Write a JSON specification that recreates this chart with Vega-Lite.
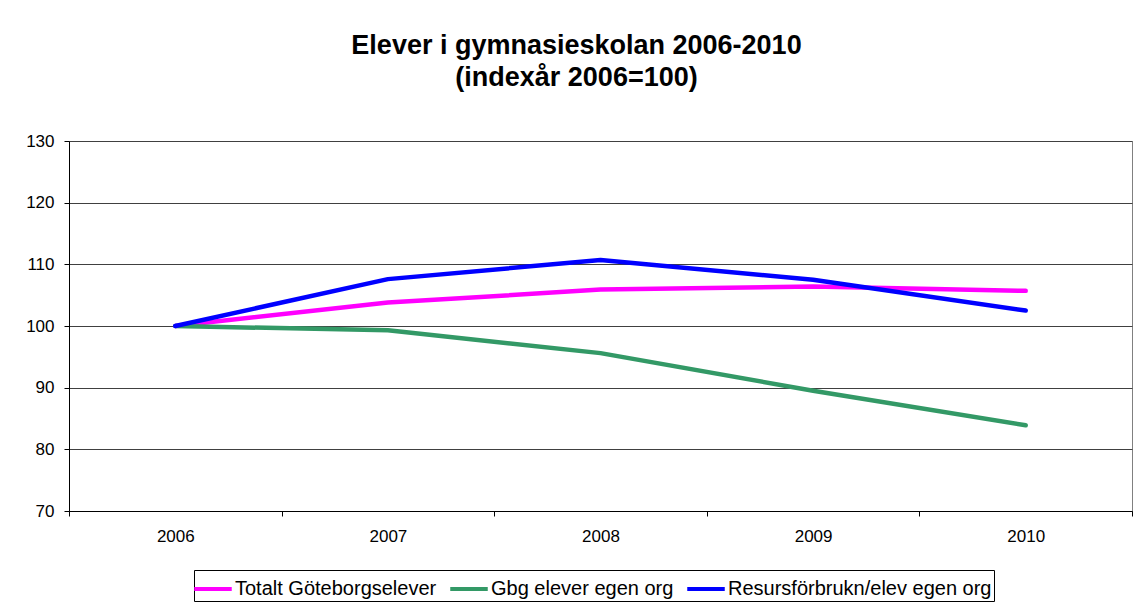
{
  "$schema": "https://vega.github.io/schema/vega-lite/v6.json",
  "autosize": {"type": "none"},
  "width": 1063,
  "height": 370,
  "padding": {"left": 69, "top": 141, "right": 1, "bottom": 96},
  "background": "white",
  "title": {
    "text": ["Elever i gymnasieskolan 2006-2010", "(indexår 2006=100)"],
    "font": "Liberation Sans",
    "fontSize": 27,
    "fontWeight": "bold",
    "color": "black",
    "anchor": "middle",
    "frame": "group",
    "lineHeight": 32,
    "dx": -24,
    "offset": 40
  },
  "data": {
    "values": [
      {"year": "2006", "series": "Totalt Göteborgselever", "value": 100},
      {"year": "2007", "series": "Totalt Göteborgselever", "value": 103.8},
      {"year": "2008", "series": "Totalt Göteborgselever", "value": 105.9},
      {"year": "2009", "series": "Totalt Göteborgselever", "value": 106.4},
      {"year": "2010", "series": "Totalt Göteborgselever", "value": 105.7},
      {"year": "2006", "series": "Gbg elever egen org", "value": 100},
      {"year": "2007", "series": "Gbg elever egen org", "value": 99.3},
      {"year": "2008", "series": "Gbg elever egen org", "value": 95.6},
      {"year": "2009", "series": "Gbg elever egen org", "value": 89.5},
      {"year": "2010", "series": "Gbg elever egen org", "value": 83.9},
      {"year": "2006", "series": "Resursförbrukn/elev egen org", "value": 100},
      {"year": "2007", "series": "Resursförbrukn/elev egen org", "value": 107.6},
      {"year": "2008", "series": "Resursförbrukn/elev egen org", "value": 110.7},
      {"year": "2009", "series": "Resursförbrukn/elev egen org", "value": 107.5},
      {"year": "2010", "series": "Resursförbrukn/elev egen org", "value": 102.5}
    ]
  },
  "mark": {"type": "line", "strokeWidth": 4.5, "strokeJoin": "round", "strokeCap": "round"},
  "encoding": {
    "x": {
      "field": "year",
      "type": "ordinal",
      "bandPosition": 0.5,
      "scale": {"type": "band", "paddingInner": 0, "paddingOuter": 0},
      "axis": {
        "title": null,
        "labelAngle": 0,
        "tickBand": "extent",
        "tickSize": 5,
        "labelPadding": 12,
        "labelFont": "Liberation Sans",
        "labelFontSize": 17,
        "labelColor": "black",
        "domainColor": "black",
        "tickColor": "black",
        "grid": false
      }
    },
    "y": {
      "field": "value",
      "type": "quantitative",
      "scale": {"domain": [70, 130], "nice": false, "zero": false},
      "axis": {
        "title": null,
        "values": [70, 80, 90, 100, 110, 120, 130],
        "tickSize": 5,
        "labelPadding": 10,
        "labelFont": "Liberation Sans",
        "labelFontSize": 17,
        "labelColor": "black",
        "domainColor": "black",
        "tickColor": "black",
        "grid": true,
        "gridColor": "#404040",
        "gridWidth": 1
      }
    },
    "color": {
      "field": "series",
      "type": "nominal",
      "scale": {
        "domain": ["Totalt Göteborgselever", "Gbg elever egen org", "Resursförbrukn/elev egen org"],
        "range": ["#FF00FF", "#339966", "#0000FF"]
      },
      "legend": {
        "title": null,
        "orient": "none",
        "legendX": 125,
        "legendY": 429,
        "direction": "horizontal",
        "strokeColor": "black",
        "fillColor": "white",
        "padding": 2,
        "symbolType": "M-1.25,0H1.25",
        "symbolSize": 900,
        "symbolStrokeWidth": 4,
        "symbolFillColor": "transparent",
        "labelFont": "Liberation Sans",
        "labelFontSize": 20,
        "labelColor": "black",
        "labelOffset": 5,
        "columnPadding": 5,
        "labelLimit": 400
      }
    }
  },
  "config": {
    "view": {"stroke": "#808080", "strokeWidth": 1}
  }
}
